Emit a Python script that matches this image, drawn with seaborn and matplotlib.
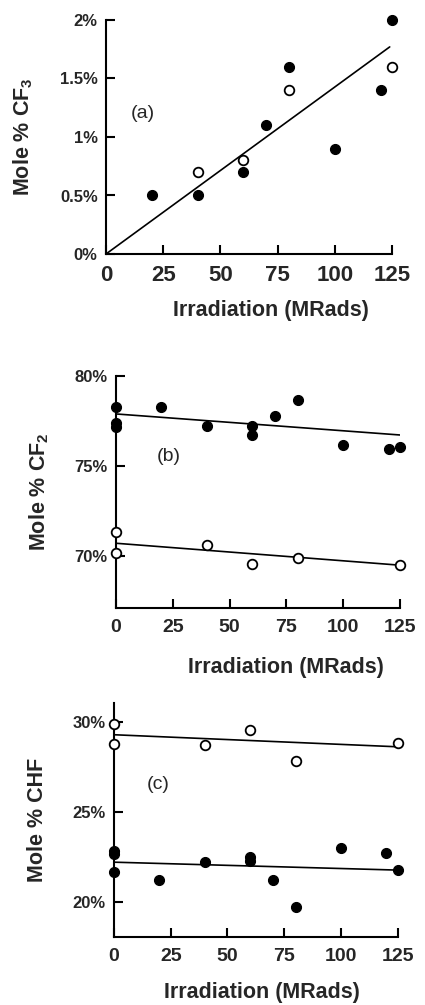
import matplotlib
matplotlib.use("Agg")
import matplotlib.pyplot as plt
import seaborn as sns
import pandas as pd
from matplotlib.ticker import FuncFormatter

sns.set_theme(style="ticks")
plt.rcParams['font.family'] = ['Liberation Sans', 'DejaVu Sans']
plt.rcParams['mathtext.fontset'] = 'custom'
plt.rcParams['mathtext.rm'] = 'Liberation Sans'
plt.rcParams['mathtext.bf'] = 'Liberation Sans:bold'

# ---- data: panel (a) Mole % CF3 ----
a_filled_x = [20, 40, 60, 70, 80, 100, 120, 125]
a_filled_y = [0.5, 0.5, 0.7, 1.1, 1.6, 0.9, 1.4, 2.0]
a_open_x = [40, 60, 80, 125]
a_open_y = [0.7, 0.8, 1.4, 1.6]
a_fit_x = [0, 124]
a_fit_y = [0.0, 1.77]

# ---- data: panel (b) Mole % CF2 ----
b_filled_x = [0, 0, 0, 20, 40, 60, 60, 70, 80, 100, 120, 125]
b_filled_y = [78.26, 77.41, 77.19, 78.26, 77.22, 77.22, 76.70, 77.78, 78.65, 76.15, 75.93, 76.07]
b_open_x = [0, 0, 40, 60, 80, 125]
b_open_y = [71.30, 70.15, 70.59, 69.56, 69.87, 69.50]
b_fit_filled_x = [0, 125]
b_fit_filled_y = [77.89, 76.72]
b_fit_open_x = [0, 125]
b_fit_open_y = [70.70, 69.48]

# ---- data: panel (c) Mole % CHF ----
c_filled_x = [0, 0, 0, 20, 40, 60, 60, 70, 80, 100, 120, 125]
c_filled_y = [22.80, 22.65, 21.67, 21.20, 22.22, 22.48, 22.28, 21.20, 19.72, 23.00, 22.70, 21.76]
c_open_x = [0, 0, 40, 60, 80, 125]
c_open_y = [29.85, 28.76, 28.72, 29.57, 27.83, 28.83]
c_fit_filled_x = [0, 125]
c_fit_filled_y = [22.20, 21.76]
c_fit_open_x = [0, 125]
c_fit_open_y = [29.28, 28.61]

x_ticks = [0, 25, 50, 75, 100, 125]
xlabel = "Irradiation (MRads)"

W, H = 425, 1005
fig = plt.figure(figsize=(W / 100, H / 100), dpi=100)


def px_axes(left, right, top, bottom):
    return fig.add_axes([left / W, (H - bottom) / H, (right - left) / W, (bottom - top) / H])


def draw_points(ax, fx, fy, ox, oy):
    sns.scatterplot(x=fx, y=fy, ax=ax, color='black', s=52, edgecolor='black',
                    linewidth=0.8, clip_on=False, zorder=4)
    sns.scatterplot(x=ox, y=oy, ax=ax, color='white', s=48, edgecolor='black',
                    linewidth=1.3, clip_on=False, zorder=4)


def style(ax, ylim, yticks, yfmt, ylab, lab_x, xl_x, xl_y, xt_size):
    ax.set_xlim(0, 125)
    ax.set_ylim(*ylim)
    ax.set_xticks(x_ticks)
    ax.set_yticks(yticks)
    ax.yaxis.set_major_formatter(FuncFormatter(yfmt))
    for s in ['top', 'right']:
        ax.spines[s].set_visible(False)
    for s in ['left', 'bottom']:
        ax.spines[s].set_linewidth(1.5)
        ax.spines[s].set_color('black')
    ax.tick_params(axis='both', direction='in', length=6.5, width=1.5, color='black')
    ax.tick_params(axis='x', labelsize=xt_size, pad=8)
    ax.tick_params(axis='y', labelsize=12, pad=6)
    for t in ax.get_xticklabels() + ax.get_yticklabels():
        t.set_fontweight('bold')
    ax.set_ylabel(ylab, fontsize=15.5, fontweight='bold')
    ax.yaxis.label.set_va('center')
    ax.yaxis.set_label_coords(lab_x, 0.5)
    ax.set_xlabel(xlabel, fontsize=15.5, fontweight='bold')
    ax.xaxis.label.set_va('center')
    ax.xaxis.set_label_coords(xl_x, xl_y)
    ax.set_facecolor('white')


def pct_a(v, pos):
    if abs(v - round(v)) < 1e-9:
        return f"{int(round(v))}%"
    return f"{v:g}%"


def pct_int(v, pos):
    return f"{int(round(v))}%"


# Panel (a)
ax1 = px_axes(106, 392, 20, 254)
sns.lineplot(x=a_fit_x, y=a_fit_y, ax=ax1, color='black', linewidth=1.2, zorder=3)
draw_points(ax1, a_filled_x, a_filled_y, a_open_x, a_open_y)
style(ax1, (0, 2), [0, 0.5, 1, 1.5, 2], pct_a, r"Mole % CF$_{\mathbf{3}}$",
      -0.29, 0.577, -0.24, 16)
ax1.text(16.2, 1.2, "(a)", fontsize=14, ha='center', va='center')

# Panel (b)
ax2 = px_axes(116, 400, 376, 608)
sns.lineplot(x=b_fit_filled_x, y=b_fit_filled_y, ax=ax2, color='black', linewidth=1.2, zorder=3)
sns.lineplot(x=b_fit_open_x, y=b_fit_open_y, ax=ax2, color='black', linewidth=1.2, zorder=3)
draw_points(ax2, b_filled_x, b_filled_y, b_open_x, b_open_y)
style(ax2, (67.1, 80), [70, 75, 80], pct_int, r"Mole % CF$_{\mathbf{2}}$",
      -0.27, 0.599, -0.255, 14)
ax2.text(23.3, 75.5, "(b)", fontsize=14, ha='center', va='center')

# Panel (c)
ax3 = px_axes(114, 397.7, 702.7, 936.7)
sns.lineplot(x=c_fit_filled_x, y=c_fit_filled_y, ax=ax3, color='black', linewidth=1.2, zorder=3)
sns.lineplot(x=c_fit_open_x, y=c_fit_open_y, ax=ax3, color='black', linewidth=1.2, zorder=3)
draw_points(ax3, c_filled_x, c_filled_y, c_open_x, c_open_y)
style(ax3, (18.06, 31.06), [20, 25, 30], pct_int, "Mole % CHF",
      -0.27, 0.52, -0.24, 14)
ax3.text(19.4, 26.5, "(c)", fontsize=14, ha='center', va='center')

fig.savefig("out.png", dpi=100, facecolor='white')
